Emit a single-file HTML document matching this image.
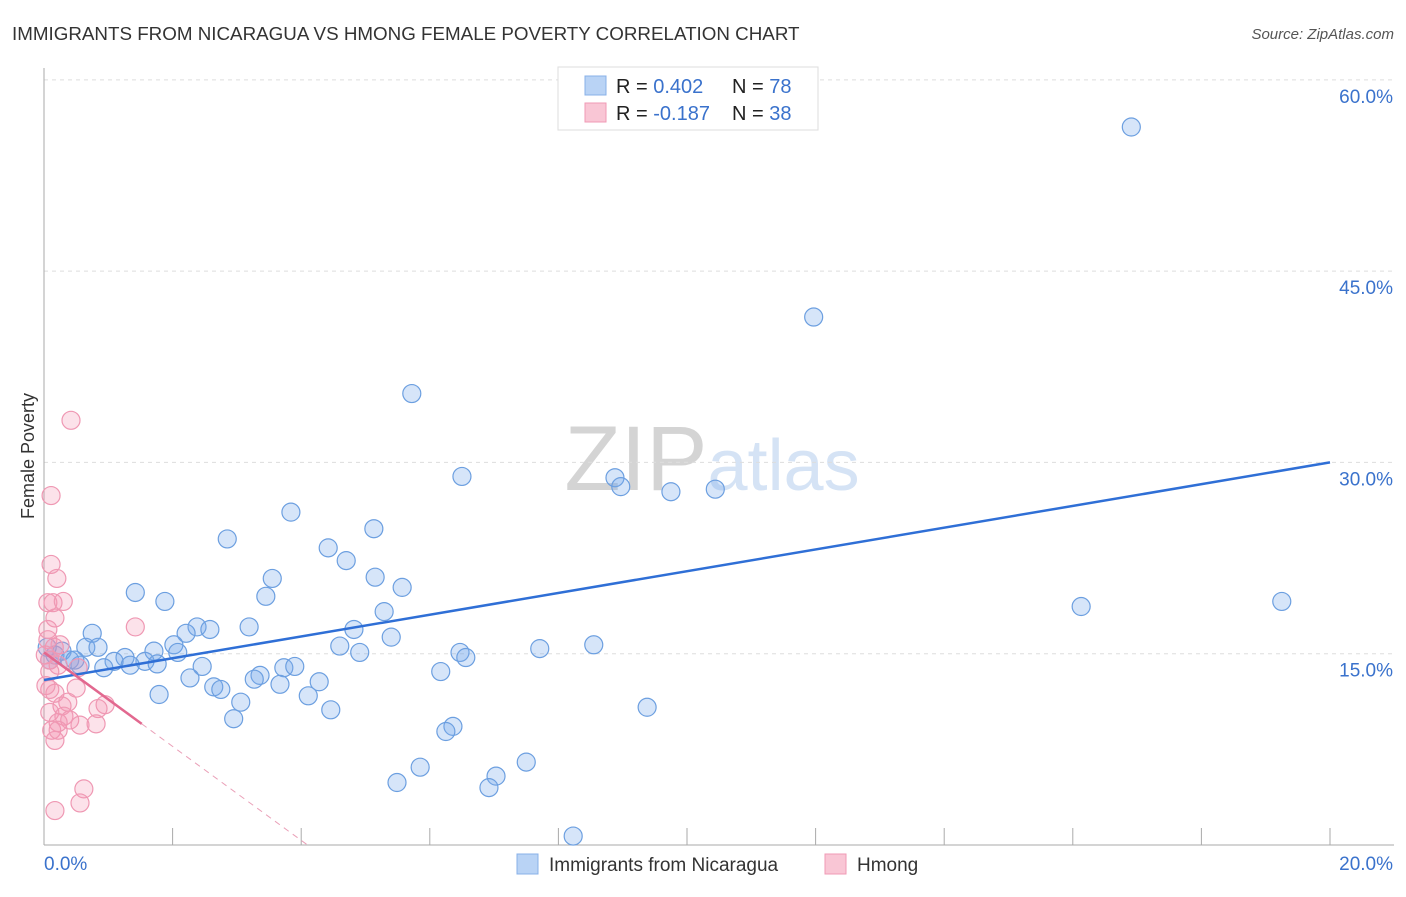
<!DOCTYPE html>
<html><head><meta charset="utf-8"><style>
body{margin:0;background:#fff;font-family:"Liberation Sans",sans-serif;}
svg text{font-family:"Liberation Sans",sans-serif;}
</style></head><body>
<svg id="c" width="1406" height="892">
<text x="12" y="40" font-size="18.8" fill="#333">IMMIGRANTS FROM NICARAGUA VS HMONG FEMALE POVERTY CORRELATION CHART</text>
<text x="1394" y="39" font-size="15" fill="#555" font-style="italic" text-anchor="end">Source: ZipAtlas.com</text>
<text x="34" y="456" font-size="18" fill="#333" transform="rotate(-90 34 456)" text-anchor="middle">Female Poverty</text>
<text x="712" y="490" font-size="92" fill="#d4d4d4" text-anchor="middle" font-family="Liberation Serif">ZIP<tspan fill="#d5e3f5" font-family="Liberation Sans" font-size="72">atlas</tspan></text>
<g id="grid"></g><g id="pts"></g><g id="lines"></g>
<g>
<rect x="558" y="67" width="260" height="63" fill="#fff" stroke="#ddd"/>
<rect x="585" y="76" width="21" height="19" fill="#b9d3f5" stroke="#88b0e8"/>
<rect x="585" y="103" width="21" height="19" fill="#f9c6d5" stroke="#f09ab5"/>
<text x="616" y="93" font-size="20" fill="#222">R = <tspan fill="#3a72cc">0.402</tspan><tspan x="732">N = </tspan><tspan fill="#3a72cc">78</tspan></text>
<text x="616" y="120" font-size="20" fill="#222">R = <tspan fill="#3a72cc">-0.187</tspan><tspan x="732">N = </tspan><tspan fill="#3a72cc">38</tspan></text>
</g>
<g>
<rect x="517" y="854" width="21" height="20" fill="#b9d3f5" stroke="#88b0e8"/>
<text x="549" y="871" font-size="19" fill="#333">Immigrants from Nicaragua</text>
<rect x="825" y="854" width="21" height="20" fill="#f9c6d5" stroke="#f09ab5"/>
<text x="857" y="871" font-size="19" fill="#333">Hmong</text>
</g>
</svg>
<script>
const yTicks=[15,30,45,60];
const xTickLabels=["0.0%","20.0%"];
const blueX=[16.91,11.97,5.72,6.50,8.88,8.97,9.75,10.44,3.84,2.85,5.13,4.42,4.70,5.15,3.55,5.57,1.42,3.45,1.88,5.29,16.13,19.25,3.19,2.38,2.58,4.82,2.21,0.75,5.40,2.02,4.60,8.55,7.71,0.65,0.84,1.71,2.08,4.91,6.47,6.56,0.28,0.17,0.09,0.40,1.26,1.09,1.57,1.76,1.34,0.93,2.46,3.73,3.90,6.17,3.36,3.27,2.27,4.28,3.67,2.64,2.75,1.79,4.11,3.06,9.38,4.46,2.95,6.36,6.25,7.50,5.85,7.03,5.49,6.92,8.23,0.56,0.05,0.48];
const blueY=[56.3,41.4,35.4,28.9,28.8,28.1,27.7,27.9,26.1,24.0,24.8,23.3,22.3,21.0,20.9,20.2,19.8,19.5,19.1,18.3,18.7,19.1,17.1,17.1,16.9,16.9,16.6,16.6,16.3,15.7,15.6,15.7,15.4,15.5,15.5,15.2,15.1,15.1,15.1,14.7,15.2,14.9,14.5,14.5,14.7,14.4,14.4,14.2,14.1,13.9,14.0,13.9,14.0,13.6,13.3,13.0,13.1,12.8,12.6,12.4,12.2,11.8,11.7,11.2,10.8,10.6,9.9,9.3,8.9,6.5,6.1,5.4,4.9,4.5,0.7,14.1,15.5,14.5];
const pinkX=[0.42,0.11,0.11,0.20,0.06,0.14,0.30,0.17,1.42,0.06,0.16,0.09,0.22,0.53,0.09,0.50,0.09,0.17,0.37,0.28,0.95,0.84,0.09,0.31,0.22,0.56,0.81,0.12,0.17,0.62,0.56,0.17,0.02,0.06,0.25,0.40,0.03,0.22];
const pinkY=[33.3,27.4,22.0,20.9,19.0,19.0,19.1,17.8,17.1,16.1,15.5,14.5,14.1,13.9,13.6,12.3,12.2,11.9,11.2,10.9,11.0,10.7,10.4,10.1,9.6,9.4,9.5,9.0,8.2,4.4,3.3,2.7,14.9,16.9,15.7,9.8,12.5,9.0];
const blueTrend=[12.94,30.0];
const pinkTrend=[15.1,9.5];
const X=v=>44+v*64.3, Y=v=>845-v*12.753;
const NS="http://www.w3.org/2000/svg";
function mk(t,a,p){const e=document.createElementNS(NS,t);for(const k in a)e.setAttribute(k,a[k]);p.appendChild(e);return e;}
const g=document.getElementById('grid');
yTicks.forEach(t=>{
 const l=mk('line',{x1:44,x2:1394,y1:Y(t),y2:Y(t),stroke:'#ddd','stroke-dasharray':'4,4'},g);
 
 
 const tx=mk('text',{x:1393,y:Y(t)+23,'font-size':19,fill:'#3a72cc','text-anchor':'end'},g);
 tx.textContent=t.toFixed(1)+'%';
 
 
});
const ax=mk('line',{x1:44,x2:44,y1:68,y2:845,stroke:'#aaa'},g);


const bx=mk('line',{x1:44,x2:1394,y1:845,y2:845,stroke:'#aaa'},g);


for(let i=0;i<=10;i++){const tk=mk('line',{x1:X(i*2),x2:X(i*2),y1:828,y2:845,stroke:'#aaa'},g);
 
 }
[[44,'start'],[1393,'end']].forEach((p,i)=>{const t=mk('text',{x:p[0],y:870,'font-size':19,fill:'#3a72cc','text-anchor':p[1]},g);t.textContent=xTickLabels[i];
 
 });
const pg=document.getElementById('pts');
blueX.forEach((v,i)=>{const c=mk('circle',{cx:X(v),cy:Y(blueY[i]),r:9,fill:'rgba(120,170,235,0.3)',stroke:'#6c9fe0','stroke-width':1.2},pg);
 
 });
pinkX.forEach((v,i)=>{const c=mk('circle',{cx:X(v),cy:Y(pinkY[i]),r:9,fill:'rgba(245,150,180,0.28)',stroke:'#ef98b3','stroke-width':1.2},pg);
 
 });
const lg=document.getElementById('lines');
const bl=mk('line',{x1:X(0),y1:Y(blueTrend[0]),x2:X(20),y2:Y(blueTrend[1]),stroke:'#2f6fd6','stroke-width':2.5},lg);


const slope=(pinkTrend[1]-pinkTrend[0])/1.52;
const pl=mk('line',{x1:X(0),y1:Y(pinkTrend[0]),x2:X(1.52),y2:Y(pinkTrend[1]),stroke:'#e2688f','stroke-width':2.5},lg);


const xe=-pinkTrend[0]/slope;
const pd=mk('line',{x1:X(1.52),y1:Y(pinkTrend[1]),x2:X(xe),y2:Y(0),stroke:'#eaa0b8','stroke-width':1,'stroke-dasharray':'6,5'},lg);


</script>
</body></html>
